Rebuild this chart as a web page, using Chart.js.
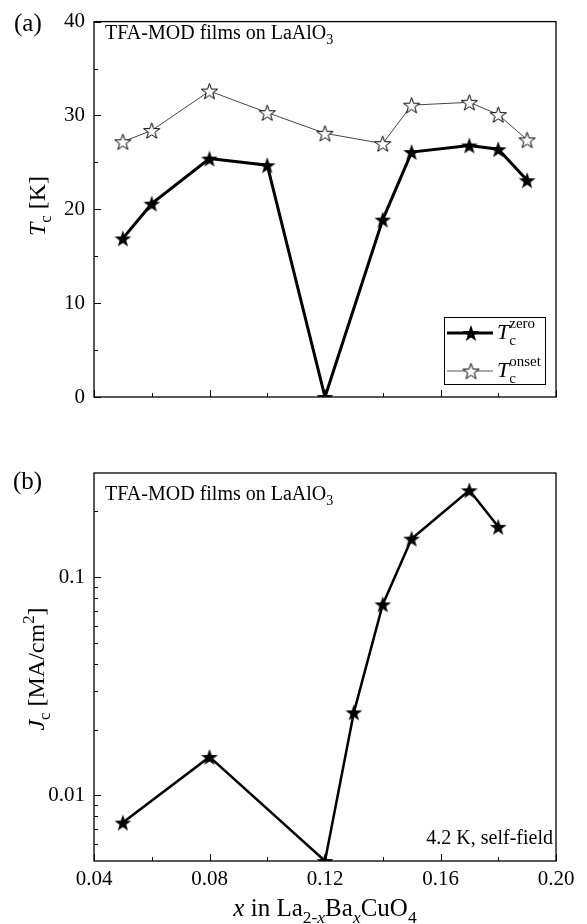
<!DOCTYPE html>
<html>
<head>
<meta charset="utf-8">
<script src="https://cdn.jsdelivr.net/npm/chart.js@4.4.1/dist/chart.umd.min.js"></script>
<style>
  html, body { margin: 0; padding: 0; background: #fff; }
  #wrap { position: relative; width: 587px; height: 924px; }
  canvas { position: absolute; left: 0; }
  #tc { top: 0; }
  #jc { top: 440px; }
</style>
</head>
<body>
<div id="wrap">
  <canvas id="tc" width="587" height="440"></canvas>
  <canvas id="jc" width="587" height="484"></canvas>
</div>
<script>
// Ba content x and transition temperatures (K)
const xTc = [0.05, 0.06, 0.08, 0.10, 0.12, 0.14, 0.15, 0.17, 0.18, 0.19];
const tcZero = [16.9, 20.6, 25.4, 24.7, 0, 18.9, 26.1, 26.8, 26.4, 23.1];
const tcOnset = [27.2, 28.4, 32.6, 30.3, 28.1, 27.0, 31.1, 31.4, 30.1, 27.4];

// critical current density at 4.2 K (MA/cm2)
const xJc = [0.05, 0.08, 0.12, 0.13, 0.14, 0.15, 0.17, 0.18];
const jc = [0.0075, 0.015, 0.005, 0.024, 0.075, 0.15, 0.25, 0.17];

// axis ticks
const xMajor = [0.04, 0.08, 0.12, 0.16, 0.20];
const xMinor = [0.06, 0.10, 0.14, 0.18];
const tcMajor = [0, 10, 20, 30, 40];
const tcMinor = [5, 15, 25, 35];
const jcMajor = [0.01, 0.1];
const jcMinor = [0.006, 0.007, 0.008, 0.009, 0.02, 0.03, 0.04, 0.05, 0.06, 0.07, 0.08, 0.09, 0.2];

const SERIF = '"Liberation Serif", "Times New Roman", serif';

function makeStar(R, fill, stroke, lw) {
  const size = Math.ceil(2 * R + 4);
  const c = document.createElement('canvas');
  c.width = size; c.height = size;
  const g = c.getContext('2d');
  g.translate(size / 2, size / 2 + R * 0.1);
  g.beginPath();
  for (let i = 0; i < 10; i++) {
    const a = -Math.PI / 2 + i * Math.PI / 5;
    const r = i % 2 === 0 ? R : R * 0.4;
    g.lineTo(Math.cos(a) * r, Math.sin(a) * r);
  }
  g.closePath();
  g.fillStyle = fill;
  g.fill();
  if (stroke) {
    g.strokeStyle = stroke;
    g.lineWidth = lw;
    g.stroke();
  }
  return c;
}

const fullStar = makeStar(8.8, '#000');
const openStar = makeStar(8.5, '#fff', '#000', 1);

// draws text runs with italic / sub / sup pieces
function rich(ctx, x, y, size, parts, align) {
  const fontOf = p => {
    const s = p.sub || p.sup ? size * 0.7 : size;
    return (p.i ? 'italic ' : '') + s + 'px ' + SERIF;
  };
  let total = 0;
  parts.forEach(p => { ctx.font = fontOf(p); total += ctx.measureText(p.t).width; });
  let cx = align === 'center' ? x - total / 2 : align === 'right' ? x - total : x;
  ctx.textAlign = 'left';
  ctx.textBaseline = 'alphabetic';
  parts.forEach(p => {
    ctx.font = fontOf(p);
    const dy = p.sub ? size * 0.27 : p.sup ? -size * 0.42 : 0;
    ctx.fillText(p.t, cx, y + dy);
    cx += ctx.measureText(p.t).width;
  });
}

// frame around the plot area and inward tick marks
const framePlugin = {
  id: 'frame',
  beforeDatasetsDraw(chart, args, opts) {
    const { ctx, chartArea: a, scales } = chart;
    ctx.save();
    ctx.strokeStyle = '#000';
    ctx.lineWidth = 1.3;
    ctx.strokeRect(a.left, a.top, a.right - a.left, a.bottom - a.top);
    ctx.lineWidth = 1;
    ctx.beginPath();
    const xt = (vals, len) => vals.forEach(v => {
      const px = Math.round(scales.x.getPixelForValue(v)) + 0.5;
      ctx.moveTo(px, a.bottom); ctx.lineTo(px, a.bottom - len);
    });
    const yt = (vals, len) => vals.forEach(v => {
      const py = Math.round(scales.y.getPixelForValue(v)) + 0.5;
      ctx.moveTo(a.left, py); ctx.lineTo(a.left + len, py);
    });
    xt(opts.xMajor, 7); xt(opts.xMinor, 4);
    yt(opts.yMajor, 7); yt(opts.yMinor, 4);
    ctx.stroke();
    ctx.restore();
  }
};

// panel labels, axis titles and notes
const notesPlugin = {
  id: 'notes',
  afterDraw(chart, args, opts) {
    const ctx = chart.ctx;
    ctx.save();
    ctx.fillStyle = '#000';
    opts.draw(ctx, chart);
    ctx.restore();
  }
};

function baseOptions(yScale, xTicks, padTop, xHeight, ticksSpec, draw) {
  return {
    responsive: false,
    animation: false,
    events: [],
    devicePixelRatio: 1,
    layout: { padding: { top: padTop, right: 31, left: 0, bottom: 0 } },
    plugins: {
      legend: { display: false },
      tooltip: { enabled: false },
      frame: ticksSpec,
      notes: { draw: draw }
    },
    scales: {
      x: {
        type: 'linear', min: 0.04, max: 0.20,
        grid: { display: false, drawTicks: false },
        border: { display: false },
        ticks: xTicks,
        afterFit: s => { s.height = xHeight; }
      },
      y: Object.assign({
        grid: { display: false, drawTicks: false },
        border: { display: false },
        afterFit: s => { s.width = 94; }
      }, yScale)
    }
  };
}

const tickFont = { family: SERIF, size: 21 };

const tcOptions = baseOptions(
  {
    type: 'linear', min: 0, max: 40,
    ticks: { stepSize: 10, font: tickFont, color: '#000', padding: 9 }
  },
  { display: false },
  13, 43,
  { xMajor: xMajor, xMinor: xMinor, yMajor: tcMajor, yMinor: tcMinor },
  (ctx) => {
    ctx.font = '25px ' + SERIF;
    ctx.fillText('(a)', 14, 31);
    rich(ctx, 105, 39, 20, [{ t: 'TFA-MOD films on LaAlO' }, { t: '3', sub: true }], 'left');
    ctx.save();
    ctx.translate(45, 206);
    ctx.rotate(-Math.PI / 2);
    rich(ctx, 0, 0, 24, [{ t: 'T', i: true }, { t: 'c', sub: true }, { t: ' [K]' }], 'center');
    ctx.restore();

    // legend
    ctx.strokeStyle = '#000';
    ctx.lineWidth = 1;
    ctx.strokeRect(444.5, 317.5, 101, 67);
    ctx.beginPath();
    ctx.lineWidth = 3;
    ctx.moveTo(447, 333); ctx.lineTo(493, 333);
    ctx.stroke();
    ctx.drawImage(fullStar, 471 - fullStar.width / 2, 333 - fullStar.height / 2);
    ctx.beginPath();
    ctx.lineWidth = 1;
    ctx.strokeStyle = '#555';
    ctx.moveTo(447, 371); ctx.lineTo(493, 371);
    ctx.stroke();
    ctx.drawImage(openStar, 471 - openStar.width / 2, 371 - openStar.height / 2);
    drawLegendLabel(ctx, 497, 339, 'zero');
    drawLegendLabel(ctx, 497, 377, 'onset');
  }
);

function drawLegendLabel(ctx, x, y, sup) {
  ctx.textBaseline = 'alphabetic';
  ctx.textAlign = 'left';
  ctx.font = 'italic 22px ' + SERIF;
  ctx.fillText('T', x, y);
  const w = ctx.measureText('T').width;
  ctx.font = '15px ' + SERIF;
  ctx.fillText('c', x + w, y + 6);
  ctx.fillText(sup, x + w, y - 11);
}

new Chart(document.getElementById('tc'), {
  type: 'scatter',
  data: {
    datasets: [
      {
        label: 'Tc onset',
        data: xTc.map((x, i) => ({ x: x, y: tcOnset[i] })),
        showLine: true,
        borderColor: '#444',
        borderWidth: 1,
        pointStyle: openStar,
        order: 2
      },
      {
        label: 'Tc zero',
        data: xTc.map((x, i) => ({ x: x, y: tcZero[i] })),
        showLine: true,
        borderColor: '#000',
        borderWidth: 3,
        pointStyle: fullStar,
        order: 1
      }
    ]
  },
  options: tcOptions,
  plugins: [framePlugin, notesPlugin]
});

const jcOptions = baseOptions(
  {
    type: 'logarithmic', min: 0.005, max: 0.3,
    ticks: {
      font: tickFont, color: '#000', padding: 9, autoSkip: false,
      callback: v => {
        const l = Math.log10(v);
        return Math.abs(l - Math.round(l)) < 1e-6 ? String(Number(v.toPrecision(1))) : '';
      }
    }
  },
  {
    stepSize: 0.04, font: tickFont, color: '#000', padding: 6, autoSkip: false,
    maxRotation: 0, callback: v => v.toFixed(2)
  },
  33, 63,
  { xMajor: xMajor, xMinor: xMinor, yMajor: jcMajor, yMinor: jcMinor },
  (ctx) => {
    ctx.font = '25px ' + SERIF;
    ctx.fillText('(b)', 13, 49);
    rich(ctx, 105, 60, 20, [{ t: 'TFA-MOD films on LaAlO' }, { t: '3', sub: true }], 'left');
    rich(ctx, 553, 404, 20, [{ t: '4.2 K, self-field' }], 'right');
    ctx.save();
    ctx.translate(44, 229);
    ctx.rotate(-Math.PI / 2);
    rich(ctx, 0, 0, 24, [{ t: 'J', i: true }, { t: 'c', sub: true }, { t: ' [MA/cm' }, { t: '2', sup: true }, { t: ']' }], 'center');
    ctx.restore();
    rich(ctx, 325, 476, 25, [
      { t: 'x', i: true }, { t: ' in La' }, { t: '2-', sub: true }, { t: 'x', sub: true, i: true },
      { t: 'Ba' }, { t: 'x', sub: true, i: true }, { t: 'CuO' }, { t: '4', sub: true }
    ], 'center');
  }
);

new Chart(document.getElementById('jc'), {
  type: 'scatter',
  data: {
    datasets: [
      {
        label: 'Jc',
        data: xJc.map((x, i) => ({ x: x, y: jc[i] })),
        showLine: true,
        borderColor: '#000',
        borderWidth: 2.5,
        pointStyle: fullStar
      }
    ]
  },
  options: jcOptions,
  plugins: [framePlugin, notesPlugin]
});
</script>
</body>
</html>
